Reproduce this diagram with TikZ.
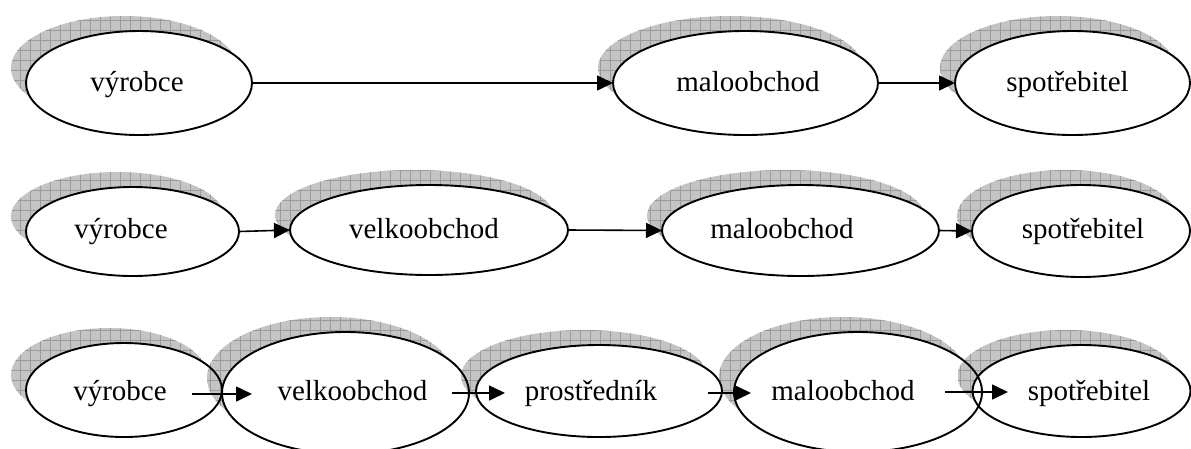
\documentclass[tikz,border=0pt]{standalone}
\usepackage{fontspec}
\setmainfont{Liberation Serif}
\usetikzlibrary{shapes.geometric,arrows.meta}

\definecolor{shadefill}{RGB}{196,196,196}
\definecolor{shadegrid}{RGB}{155,155,155}

\tikzset{
  bubble/.style={ellipse, draw=black, line width=1.9pt, inner sep=0pt, outer sep=0pt},
  word/.style={font=\fontsize{29}{34}\selectfont, inner sep=0pt, anchor=base},
  flow/.style={line width=1.6pt, -{Triangle[length=16pt,width=15pt]}},
  shadegridline/.style={draw=shadegrid, line width=0.6pt}
}

\begin{document}
\begin{tikzpicture}[x=1pt,y=-1pt]
\useasboundingbox (0,0) rectangle (1191,448);

% ellipse list: name / centre x / centre y / x radius / y radius
\def\bubbles{v1/139/83/113/52, m1/745.5/83/132.5/52, s1/1072.5/83/117.5/52,
  v2/132.5/231.5/106.5/44.5, k2/429/230/139/45, m2/800.5/230.5/138.5/45.5, s2/1081/231/109/46,
  v3/124/390/98/47, k3/345.5/393/123.5/61, p3/599/391/123/46, m3/858/392/124/60, s3/1081.5/391/109/46}

% hatched shadows and white bodies, one ellipse after the other
\foreach \n/\cx/\cy/\rx/\ry in \bubbles {
  \begin{scope}
    \clip (\cx-15,\cy-15) ellipse [x radius=\rx, y radius=\ry];
    \fill[shadefill] (\cx-15-\rx,\cy-15-\ry) rectangle (\cx-15+\rx,\cy-15+\ry);
    \draw[shadegridline]
      foreach \gx in {0,10,...,1190} {(\gx,0) -- (\gx,448)}
      foreach \gy in {0,10,...,440} {(0,\gy) -- (1191,\gy)};
  \end{scope}
  \fill[white] (\cx,\cy) ellipse [x radius=\rx, y radius=\ry];
}

% outlines on top
\foreach \n/\cx/\cy/\rx/\ry in \bubbles {
  \node[bubble, minimum width=2*\rx pt, minimum height=2*\ry pt] (\n) at (\cx,\cy) {};
}

% labels
\node[word] (t11) at (137,91.7) {výrobce};
\node[word] (t12) at (748,91.7) {maloobchod};
\node[word] (t13) at (1067.5,91.7) {spotřebitel};

\node[word] (t21) at (121,238.5) {výrobce};
\node[word] (t22) at (424,238.5) {velkoobchod};
\node[word] (t23) at (782,238.5) {maloobchod};
\node[word] (t24) at (1083,238.5) {spotřebitel};

\node[word] (t31) at (120,400) {výrobce};
\node[word] (t32) at (352.5,400) {velkoobchod};
\node[word] (t33) at (591,400) {prostředník};
\node[word] (t34) at (843,400) {maloobchod};
\node[word] (t35) at (1089,400) {spotřebitel};

% connectors, rows one and two
\draw[flow] (v1.east) -- (m1.west);
\draw[flow] (m1.east) -- (s1.west);
\draw[flow] (v2.east) -- (k2.west);
\draw[flow] (k2.east) -- (m2.west);
\draw[flow] (m2.east) -- (s2.west);

% connectors, row three (between the words)
\coordinate (a1s) at (192,394);  \coordinate (a1e) at (252,394);
\coordinate (a2s) at (452,393);  \coordinate (a2e) at (505,393);
\coordinate (a3s) at (708,393);  \coordinate (a3e) at (751,393);
\coordinate (a4s) at (945,392);  \coordinate (a4e) at (1008,392);
\draw[flow] (a1s) -- (a1e);
\draw[flow] (a2s) -- (a2e);
\draw[flow] (a3s) -- (a3e);
\draw[flow] (a4s) -- (a4e);
\end{tikzpicture}
\end{document}
